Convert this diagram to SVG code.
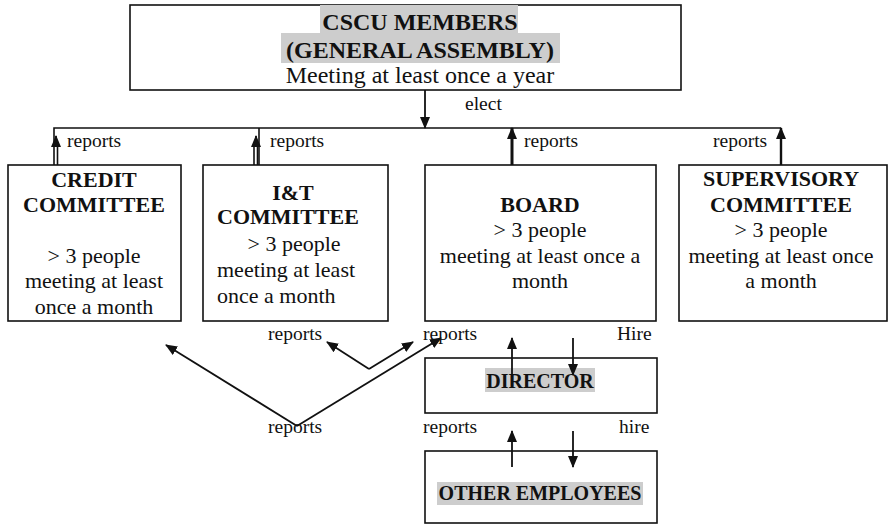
<svg xmlns="http://www.w3.org/2000/svg" width="888" height="525" viewBox="0 0 888 525">
<style>
.box{fill:#fff;stroke:#111;stroke-width:1.6}
.hl{fill:#cdcdcd}
.t{font-family:'Liberation Serif','Tinos','Times New Roman','DejaVu Serif',serif;fill:#111}
.b{font-weight:bold}
.c{text-anchor:middle}
.big{font-size:24px}
.mid{font-size:22px}
.lab{font-size:19.5px}
.ln{stroke:#111;stroke-width:1.6;fill:none}
.ar{stroke:#111;stroke-width:1.8;fill:none;marker-end:url(#ah)}
</style>
<defs>
<marker id="ah" markerUnits="userSpaceOnUse" markerWidth="12" markerHeight="12" viewBox="0 0 12 10" refX="11" refY="5" orient="auto">
<path d="M0,0 L12,5 L0,10 Z" fill="#111"/>
</marker>
</defs>

<g id="general-assembly">
<rect class="box" x="130" y="5" width="551" height="85"/>
<rect class="hl" x="320" y="5" width="198" height="28"/>
<rect class="hl" x="281" y="33" width="279" height="30"/>
<text class="t b big c" x="420" y="30">CSCU MEMBERS</text>
<text class="t b big c" x="420" y="58">(GENERAL ASSEMBLY)</text>
<text class="t big c" x="420" y="83">Meeting at least once a year</text>
</g>

<g id="credit-committee">
<rect class="box" x="8" y="165" width="173" height="156"/>
<text class="t b mid c" x="94" y="187">CREDIT</text>
<text class="t b mid c" x="94" y="212">COMMITTEE</text>
<text class="t mid c" x="94" y="263">&gt; 3 people</text>
<text class="t mid c" x="94" y="288">meeting at least</text>
<text class="t mid c" x="94" y="314">once a month</text>
</g>

<g id="it-committee">
<rect class="box" x="203" y="165" width="185" height="156"/>
<text class="t b mid c" x="293" y="200">I&amp;T</text>
<text class="t b mid c" x="288" y="224">COMMITTEE</text>
<text class="t mid c" x="294" y="251">&gt; 3 people</text>
<text class="t mid" x="217" y="277">meeting at least</text>
<text class="t mid" x="217" y="303">once a month</text>
</g>

<g id="board">
<rect class="box" x="425" y="165" width="231" height="156"/>
<text class="t b mid c" x="540" y="212">BOARD</text>
<text class="t mid c" x="540" y="237">&gt; 3 people</text>
<text class="t mid c" x="540" y="263">meeting at least once a</text>
<text class="t mid c" x="540" y="288">month</text>
</g>

<g id="supervisory-committee">
<rect class="box" x="679" y="165" width="208" height="156"/>
<text class="t b mid c" x="781" y="186">SUPERVISORY</text>
<text class="t b mid c" x="781" y="212">COMMITTEE</text>
<text class="t mid c" x="781" y="237">&gt; 3 people</text>
<text class="t mid c" x="781" y="263">meeting at least once</text>
<text class="t mid c" x="781" y="288">a month</text>
</g>

<g id="director">
<rect class="box" x="425" y="358" width="232" height="55"/>
<rect class="hl" x="485" y="368" width="110" height="24"/>
<text class="t b c" style="font-size:20px" x="540" y="388">DIRECTOR</text>
</g>

<g id="other-employees">
<rect class="box" x="425" y="451" width="232" height="72"/>
<rect class="hl" x="437" y="482" width="206" height="23"/>
<text class="t b c" style="font-size:20px" x="540" y="500">OTHER EMPLOYEES</text>
</g>

<g id="connectors">
<line class="ar" x1="425" y1="90" x2="425" y2="128"/>
<polyline class="ln" points="54,165 54,128 781,128"/>
<line class="ln" x1="259" y1="128" x2="259" y2="165"/>
<line class="ln" x1="57.5" y1="165" x2="57.5" y2="146"/>
<line class="ar" x1="56" y1="146" x2="56" y2="136"/>
<line class="ln" x1="254" y1="165" x2="254" y2="146"/>
<line class="ln" x1="257.5" y1="165" x2="257.5" y2="146"/>
<line class="ar" x1="256" y1="146" x2="256" y2="136"/>
<line class="ar" style="stroke-width:3" x1="512" y1="165" x2="512" y2="128"/>
<line class="ar" style="stroke-width:2.4" x1="781" y1="165" x2="781" y2="128"/>
<line class="ar" x1="297" y1="426" x2="166" y2="345"/>
<line class="ar" x1="297" y1="426" x2="441" y2="338"/>
<line class="ar" x1="369" y1="369" x2="327" y2="342"/>
<line class="ar" x1="369" y1="369" x2="413" y2="342"/>
<line class="ar" x1="512" y1="382" x2="512" y2="338"/>
<line class="ar" x1="573" y1="338" x2="573" y2="375"/>
<line class="ar" x1="512" y1="467" x2="512" y2="431"/>
<line class="ar" x1="573" y1="431" x2="573" y2="467"/>
</g>

<g id="labels">
<text class="t lab" x="465" y="110">elect</text>
<text class="t lab" x="67" y="147">reports</text>
<text class="t lab" x="270" y="147">reports</text>
<text class="t lab" x="524" y="147">reports</text>
<text class="t lab" x="713" y="147">reports</text>
<text class="t lab" x="268" y="340">reports</text>
<text class="t lab" x="423" y="340">reports</text>
<text class="t lab" x="617" y="340">Hire</text>
<text class="t lab" x="268" y="433">reports</text>
<text class="t lab" x="423" y="433">reports</text>
<text class="t lab" x="619" y="433">hire</text>
</g>
</svg>
